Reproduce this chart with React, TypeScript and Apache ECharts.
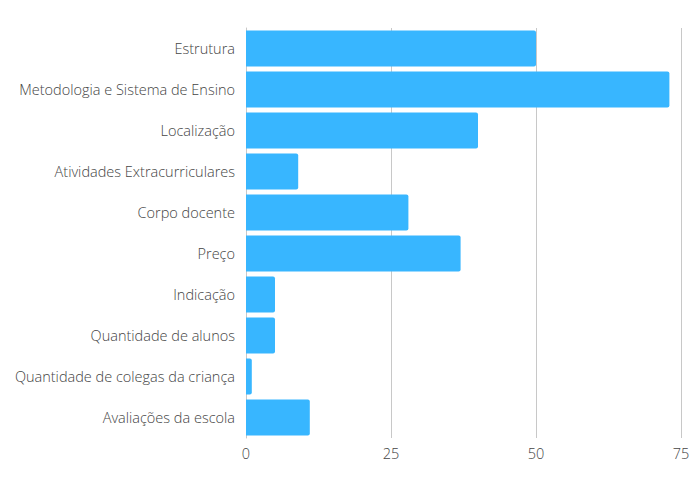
import React, { useEffect, useRef } from "react";
import * as echarts from "echarts";

const categories = [
  "Estrutura",
  "Metodologia e Sistema de Ensino",
  "Localização",
  "Atividades Extracurriculares",
  "Corpo docente",
  "Preço",
  "Indicação",
  "Quantidade de alunos",
  "Quantidade de colegas da criança",
  "Avaliações da escola",
];
const values = [50, 73, 40, 9, 28, 37, 5, 5, 1, 11];

export default function App() {
  const ref = useRef<HTMLDivElement>(null);
  useEffect(() => {
    const chart = echarts.init(ref.current!, null, { renderer: "svg" });
    chart.setOption({
      animation: false,
      textStyle: { fontFamily: "Open Sans" },
      grid: { left: 246, right: 19, top: 28, bottom: 62, containLabel: false },
      xAxis: {
        type: "value",
        min: 0,
        max: 75,
        interval: 25,
        axisLine: { show: false },
        axisTick: { show: false },
        splitLine: { lineStyle: { color: "#c8c8c8", width: 1 } },
        axisLabel: { color: "#444", fontSize: 14.5, fontWeight: 300, margin: 8, fontFamily: "Open Sans" },
      },
      yAxis: {
        type: "category",
        data: categories,
        inverse: true,
        axisLine: { show: true, lineStyle: { color: "#c8c8c8" } },
        axisTick: { show: false },
        axisLabel: { color: "#444", fontSize: 14.5, fontWeight: 300, margin: 11, fontFamily: "Open Sans" },
      },
      series: [
        {
          type: "bar",
          data: values,
          barCategoryGap: "12%",
          itemStyle: { color: "#38b6ff", borderRadius: [0, 2, 2, 0] },
        },
      ],
    });
    return () => chart.dispose();
  }, []);
  return (
    <div
      ref={ref}
      style={{ position: "absolute", left: 0, top: 0, width: 700, height: 500 }}
    />
  );
}
